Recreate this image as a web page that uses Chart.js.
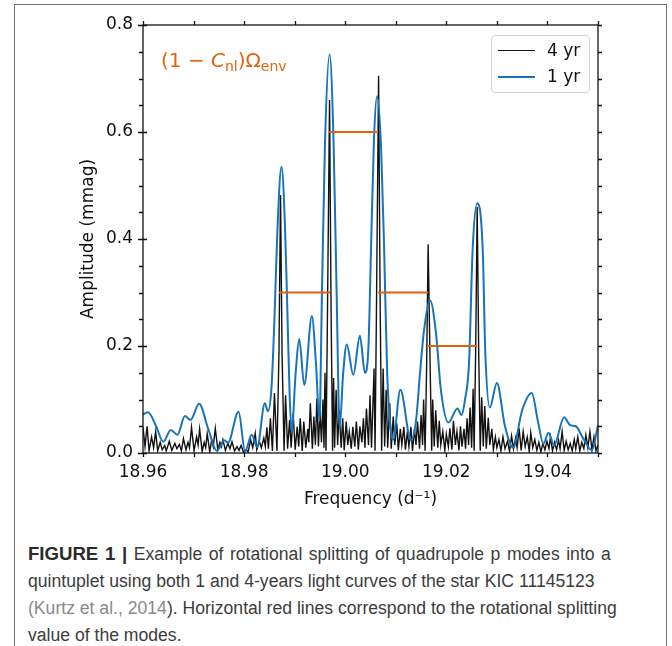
<!DOCTYPE html>
<html>
<head>
<meta charset="utf-8">
<script src="https://cdn.jsdelivr.net/npm/chart.js@4.4.1/dist/chart.umd.min.js"></script>
<style>
  html, body { margin: 0; padding: 0; background: #fff; }
  body { width: 672px; height: 646px; position: relative; overflow: hidden; }
  #frame { position: absolute; left: 14px; top: 4px; width: 651px; height: 700px;
           border: 1px solid #6f6f6f; border-bottom: none; }
  #chartMes { position: absolute; left: 0; top: 0; }
  .leg { position: absolute; left: 491px; top: 35px; width: 97px; height: 56px;
         border: 1px solid #d4d4d4; border-radius: 4px; background: rgba(255,255,255,.85);
         font: 17px "DejaVu Sans"; color: #111; }
  .leg .row { position: absolute; left: 0; height: 20px; width: 97px; }
  .leg .swatch { position: absolute; left: 6px; top: 10px; width: 37px; height: 0; }
  .leg .txt { position: absolute; left: 55px; top: 0; line-height: 20px; }
  .note { position: absolute; left: 161px; top: 48px; color: #e3620f;
          font: 20px "DejaVu Sans"; white-space: nowrap; }
  .note sub { font-size: 14px; vertical-align: -4px; }
  .caption { position: absolute; left: 28px; top: 540px; width: 640px;
             font: 17.6px "Liberation Sans", Arial, sans-serif; line-height: 27px; color: #3c3c3c;
             white-space: nowrap; }
  .caption b { color: #2a2a2a; font-size: 18.6px; }
  .caption .l1 { word-spacing: 1.6px; }
  .caption .ref { color: #8a8a8a; }
</style>
</head>
<body>
<div id="frame"></div>
<canvas id="chartMes" width="672" height="515"></canvas>

<div class="note">(1 − <i>C</i><sub>nl</sub>)Ω<sub>env</sub></div>

<div class="leg">
  <div class="row" style="top:4px"><div class="swatch" style="border-top:1.5px solid #111"></div><span class="txt">4 yr</span></div>
  <div class="row" style="top:30px"><div class="swatch" style="border-top:2px solid #1874b8"></div><span class="txt">1 yr</span></div>
</div>

<div class="caption">
  <span class="l1"><b>FIGURE 1 |</b> Example of rotational splitting of quadrupole p modes into a</span><br>
  quintuplet using both 1 and 4-years light curves of the star KIC 11145123<br>
  <span class="ref">(Kurtz et al., 2014</span>). Horizontal red lines correspond to the rotational splitting<br>
  value of the modes.
</div>

<script>
// ---------- datos ----------
// 4 yr (negro): frecuencia (d^-1) y amplitud (mmag)
const blackFreq = [
  18.9600, 18.9604, 18.9608, 18.9612, 18.9617, 18.9621, 18.9625, 18.9629, 18.9634, 18.9638,
  18.9643, 18.9646, 18.9652, 18.9657, 18.9663, 18.9667, 18.9672, 18.9676, 18.9680, 18.9685,
  18.9689, 18.9692, 18.9696, 18.9701, 18.9706, 18.9709, 18.9712, 18.9717, 18.9721, 18.9724,
  18.9727, 18.9732, 18.9736, 18.9739, 18.9743, 18.9748, 18.9752, 18.9755, 18.9758, 18.9763,
  18.9768, 18.9772, 18.9776, 18.9781, 18.9786, 18.9790, 18.9794, 18.9799, 18.9804, 18.9808,
  18.9813, 18.9817, 18.9822, 18.9825, 18.9830, 18.9834, 18.9839, 18.9842, 18.9845, 18.9848,
  18.9852, 18.9856, 18.9860, 18.9865, 18.9869, 18.9872, 18.9875, 18.9879, 18.9882, 18.9886,
  18.9890, 18.9893, 18.9897, 18.9901, 18.9905, 18.9908, 18.9911, 18.9915, 18.9918, 18.9922,
  18.9926, 18.9928, 18.9931, 18.9935, 18.9938, 18.9941, 18.9944, 18.9947, 18.9950, 18.9953,
  18.9956, 18.9958, 18.9960, 18.9962, 18.9965, 18.9969, 18.9972, 18.9975, 18.9977, 18.9979,
  18.9982, 18.9985, 18.9988, 18.9992, 18.9995, 18.9998, 19.0002, 19.0005, 19.0008, 19.0012,
  19.0015, 19.0019, 19.0022, 19.0026, 19.0029, 19.0033, 19.0036, 19.0039, 19.0042, 19.0046,
  19.0049, 19.0052, 19.0057, 19.0059, 19.0062, 19.0066, 19.0069, 19.0072, 19.0075, 19.0078,
  19.0081, 19.0084, 19.0088, 19.0091, 19.0095, 19.0098, 19.0102, 19.0105, 19.0109, 19.0112,
  19.0116, 19.0119, 19.0123, 19.0126, 19.0130, 19.0133, 19.0137, 19.0140, 19.0143, 19.0147,
  19.0150, 19.0153, 19.0155, 19.0158, 19.0161, 19.0164, 19.0168, 19.0171, 19.0173, 19.0176,
  19.0179, 19.0183, 19.0186, 19.0189, 19.0193, 19.0197, 19.0200, 19.0204, 19.0207, 19.0211,
  19.0214, 19.0218, 19.0221, 19.0225, 19.0228, 19.0231, 19.0235, 19.0238, 19.0241, 19.0244,
  19.0247, 19.0250, 19.0253, 19.0255, 19.0258, 19.0261, 19.0264, 19.0267, 19.0270, 19.0273,
  19.0276, 19.0279, 19.0283, 19.0286, 19.0290, 19.0293, 19.0297, 19.0300, 19.0304, 19.0308,
  19.0312, 19.0316, 19.0321, 19.0325, 19.0329, 19.0333, 19.0337, 19.0340, 19.0344, 19.0348,
  19.0352, 19.0356, 19.0360, 19.0364, 19.0367, 19.0371, 19.0375, 19.0379, 19.0383, 19.0387,
  19.0391, 19.0395, 19.0399, 19.0403, 19.0406, 19.0410, 19.0414, 19.0418, 19.0422, 19.0425,
  19.0429, 19.0433, 19.0437, 19.0441, 19.0445, 19.0449, 19.0453, 19.0456, 19.0460, 19.0464,
  19.0468, 19.0472, 19.0476, 19.0480, 19.0484, 19.0488, 19.0492, 19.0496, 19.0500
];
const blackAmp = [
  0.048, 0.012, 0.050, 0.004, 0.030, 0.010, 0.040, 0.004, 0.020, 0.006,
  0.014, 0.004, 0.022, 0.005, 0.018, 0.008, 0.016, 0.004, 0.027, 0.006,
  0.020, 0.010, 0.048, 0.004, 0.030, 0.015, 0.045, 0.003, 0.020, 0.010,
  0.036, 0.002, 0.025, 0.012, 0.046, 0.006, 0.020, 0.012, 0.025, 0.005,
  0.018, 0.008, 0.021, 0.004, 0.012, 0.005, 0.014, 0.001, 0.006, 0.002,
  0.025, 0.010, 0.037, 0.006, 0.022, 0.010, 0.028, 0.012, 0.048, 0.008,
  0.065, 0.004, 0.112, 0.004, 0.190, 0.482, 0.190, 0.004, 0.108, 0.008,
  0.062, 0.010, 0.074, 0.006, 0.049, 0.012, 0.065, 0.004, 0.059, 0.010,
  0.045, 0.020, 0.093, 0.008, 0.068, 0.015, 0.102, 0.012, 0.080, 0.020,
  0.100, 0.010, 0.150, 0.004, 0.270, 0.660, 0.270, 0.004, 0.140, 0.010,
  0.118, 0.015, 0.080, 0.010, 0.065, 0.005, 0.059, 0.015, 0.040, 0.008,
  0.049, 0.012, 0.059, 0.006, 0.050, 0.020, 0.065, 0.010, 0.083, 0.015,
  0.108, 0.010, 0.158, 0.004, 0.290, 0.705, 0.290, 0.004, 0.158, 0.012,
  0.118, 0.010, 0.093, 0.008, 0.068, 0.015, 0.055, 0.005, 0.045, 0.015,
  0.049, 0.006, 0.040, 0.012, 0.049, 0.004, 0.045, 0.015, 0.059, 0.008,
  0.071, 0.015, 0.100, 0.004, 0.160, 0.390, 0.160, 0.004, 0.100, 0.012,
  0.080, 0.010, 0.060, 0.015, 0.040, 0.005, 0.035, 0.012, 0.046, 0.006,
  0.060, 0.015, 0.040, 0.005, 0.050, 0.012, 0.045, 0.008, 0.065, 0.015,
  0.085, 0.010, 0.120, 0.004, 0.190, 0.460, 0.190, 0.004, 0.104, 0.012,
  0.088, 0.008, 0.066, 0.015, 0.045, 0.006, 0.030, 0.010, 0.025, 0.004,
  0.030, 0.008, 0.022, 0.003, 0.032, 0.008, 0.028, 0.010, 0.046, 0.005,
  0.040, 0.012, 0.030, 0.003, 0.038, 0.010, 0.025, 0.005, 0.020, 0.002,
  0.018, 0.006, 0.022, 0.008, 0.030, 0.004, 0.020, 0.006, 0.024, 0.008,
  0.040, 0.005, 0.022, 0.006, 0.018, 0.004, 0.025, 0.008, 0.030, 0.004,
  0.020, 0.008, 0.034, 0.010, 0.040, 0.006, 0.030, 0.004, 0.015
];

// 1 yr (azul): extremos y flancos leídos
const blueFreq = [
  18.9600, 18.9610, 18.9626, 18.9640, 18.9655, 18.9668, 18.9683, 18.9694, 18.9711, 18.9729,
  18.9746, 18.9761, 18.9768, 18.9789, 18.9802, 18.9815, 18.9826, 18.9841, 18.9847, 18.9854,
  18.9860, 18.9866, 18.9874, 18.9881, 18.9886, 18.9890, 18.9894, 18.9902, 18.9909, 18.9919,
  18.9934, 18.9942, 18.9949, 18.9954, 18.9960, 18.9969, 18.9977, 18.9983, 18.9989, 18.9996,
  19.0003, 19.0016, 19.0029, 19.0039, 19.0046, 19.0051, 19.0057, 19.0063, 19.0071, 19.0077,
  19.0083, 19.0091, 19.0095, 19.0109, 19.0130, 19.0140, 19.0148, 19.0156, 19.0168, 19.0180,
  19.0189, 19.0204, 19.0222, 19.0230, 19.0237, 19.0245, 19.0252, 19.0261, 19.0272, 19.0277,
  19.0286, 19.0300, 19.0316, 19.0332, 19.0350, 19.0369, 19.0381, 19.0392, 19.0402, 19.0413,
  19.0433, 19.0445, 19.0456, 19.0472, 19.0488, 19.0500
];
const blueAmp = [
  0.072, 0.076, 0.050, 0.021, 0.043, 0.034, 0.069, 0.062, 0.092, 0.045,
  0.004, 0.024, 0.019, 0.077, 0.003, 0.034, 0.011, 0.093, 0.078, 0.120,
  0.250, 0.420, 0.535, 0.420, 0.250, 0.110, 0.040, 0.150, 0.213, 0.127,
  0.256, 0.170, 0.060, 0.300, 0.580, 0.745, 0.580, 0.300, 0.048, 0.150,
  0.203, 0.146, 0.219, 0.150, 0.200, 0.380, 0.590, 0.667, 0.570, 0.380,
  0.150, 0.035, 0.025, 0.118, 0.024, 0.060, 0.150, 0.230, 0.285, 0.220,
  0.120, 0.057, 0.083, 0.071, 0.100, 0.170, 0.380, 0.467, 0.380, 0.190,
  0.085, 0.131, 0.050, 0.010, 0.080, 0.112, 0.060, 0.017, 0.038, 0.014,
  0.067, 0.052, 0.050, 0.025, 0.005, 0.052
];

// desdoblamiento rotacional (líneas naranjas): [desde, hasta] y nivel
const splitFrom  = [18.9968, 18.9869, 19.0065, 19.0162];
const splitTo    = [19.0065, 18.9970, 19.0164, 19.0261];
const splitLevel = [0.6, 0.3, 0.3, 0.2];

// ejes
const xMin = 18.96, xMax = 19.05, xStep = 0.01;
const yMin = 0, yMax = 0.8, yStep = 0.05;

// ---------- armado ----------
const FONT = 'DejaVu Sans';
const ORANGE = '#e3620f';
const BLUE = '#1874b8';

const pts = (xs, ys) => xs.map((v, i) => ({ x: v, y: ys[i] }));

const datasets = [];
splitFrom.forEach((f, i) => {
  datasets.push({
    label: 'split' + i,
    data: [{ x: f, y: splitLevel[i] }, { x: splitTo[i], y: splitLevel[i] }],
    borderColor: ORANGE, borderWidth: 2, pointRadius: 0, order: 0
  });
});
datasets.push({
  label: '1 yr', data: pts(blueFreq, blueAmp),
  borderColor: BLUE, borderWidth: 2, pointRadius: 0,
  cubicInterpolationMode: 'monotone', order: 1
});
datasets.push({
  label: '4 yr', data: pts(blackFreq, blackAmp),
  borderColor: '#111', borderWidth: 1.4, pointRadius: 0, tension: 0, order: 2
});

// marco completo + ticks hacia afuera (estilo matplotlib)
const frameTicks = {
  id: 'frameTicks',
  afterDatasetsDraw(chart) {
    const { ctx, chartArea: a, scales: { x, y } } = chart;
    ctx.save();
    ctx.strokeStyle = '#111';
    ctx.lineWidth = 1.3;
    ctx.strokeRect(a.left, a.top, a.right - a.left, a.bottom - a.top);
    ctx.beginPath();
    x.ticks.forEach(t => {
      const px = Math.round(x.getPixelForValue(t.value)) + 0.5;
      ctx.moveTo(px, a.bottom); ctx.lineTo(px, a.bottom + 4);
      ctx.moveTo(px, a.top); ctx.lineTo(px, a.top - 4);
    });
    y.ticks.forEach(t => {
      const py = Math.round(y.getPixelForValue(t.value)) + 0.5;
      const major = Math.round(t.value * 100) % 20 === 0;
      ctx.moveTo(a.left - (major ? 5 : 4), py); ctx.lineTo(a.left + (major ? 4 : 0), py);
      ctx.moveTo(a.right, py); ctx.lineTo(a.right + 4, py);
    });
    ctx.stroke();
    ctx.restore();
  }
};

new Chart(document.getElementById('chartMes'), {
  type: 'line',
  data: { datasets },
  options: {
    responsive: false,
    animation: false,
    devicePixelRatio: 1,
    layout: { padding: { left: 0, top: 25, right: 74, bottom: 0 } },
    plugins: { legend: { display: false }, tooltip: { enabled: false } },
    scales: {
      x: {
        type: 'linear', min: xMin, max: xMax,
        border: { display: false },
        grid: { display: false, drawTicks: false },
        ticks: {
          stepSize: xStep, autoSkip: false, maxRotation: 0, padding: 9,
          color: '#111', font: { family: FONT, size: 17 },
          callback: (v) => (Math.round(v * 100) % 2 === 0 ? v.toFixed(2) : '')
        },
        title: { display: true, text: 'Frequency (d⁻¹)', color: '#111',
                 font: { family: FONT, size: 17 }, padding: { top: 0, bottom: 5 } },
        afterFit: (s) => { s.height = 62; }
      },
      y: {
        min: yMin, max: yMax,
        border: { display: false },
        grid: { display: false, drawTicks: false },
        ticks: {
          stepSize: yStep, autoSkip: false, padding: 10,
          color: '#111', font: { family: FONT, size: 17 },
          callback: (v) => (Math.round(v * 100) % 20 === 0 ? v.toFixed(1) : '')
        },
        title: { display: true, text: 'Amplitude (mmag)', color: '#111',
                 font: { family: FONT, size: 17 }, padding: { top: 78, bottom: 0 } },
        afterFit: (s) => { s.width = 143; }
      }
    }
  },
  plugins: [frameTicks]
});
</script>
</body>
</html>
